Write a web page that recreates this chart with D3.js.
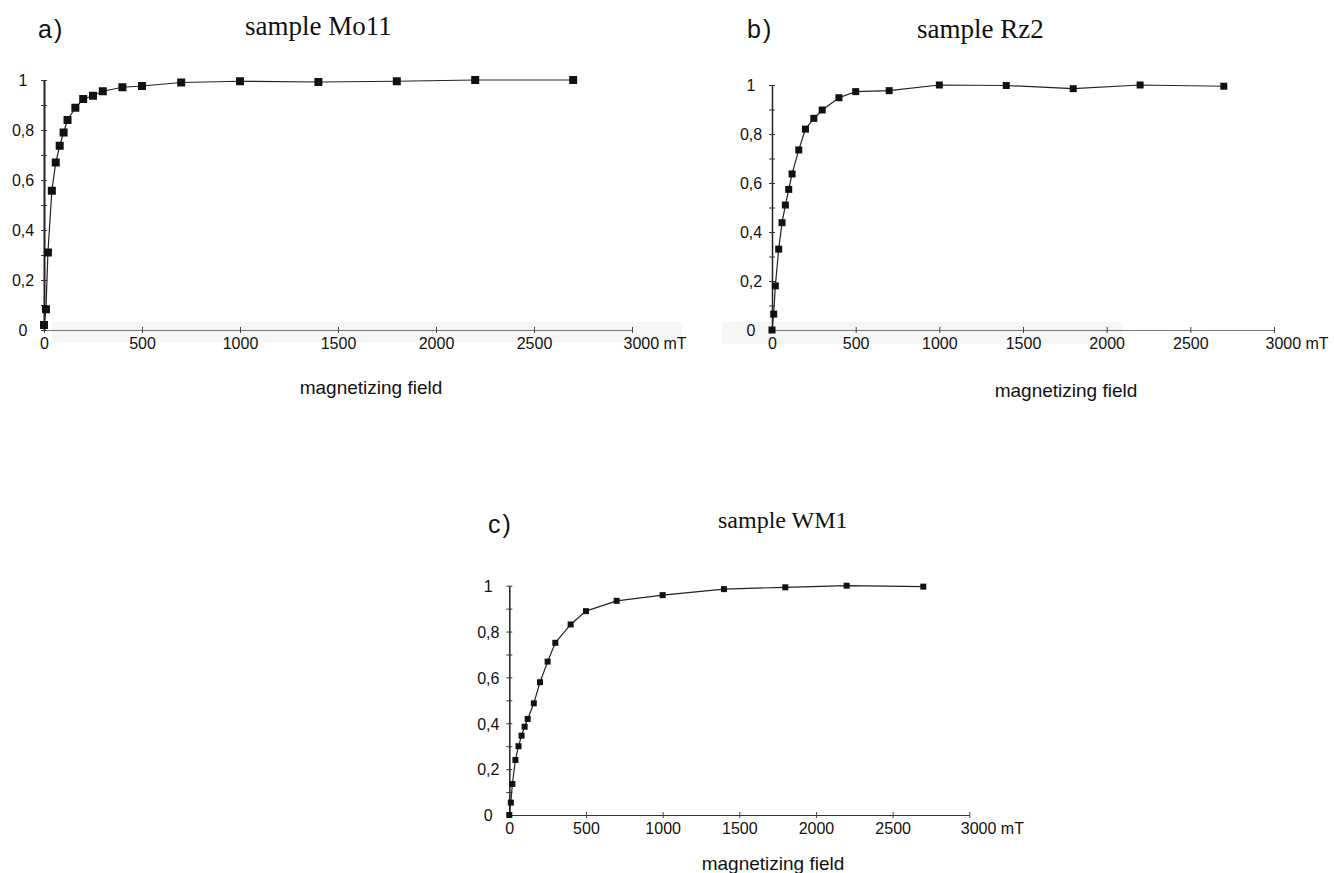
<!DOCTYPE html>
<html>
<head>
<meta charset="utf-8">
<script src="https://cdn.jsdelivr.net/npm/d3@7"></script>
<style>
  html, body { margin: 0; padding: 0; background: #fff; }
  svg { display: block; }
  .tick-label { font-family: Arial, "Liberation Sans", sans-serif; font-size: 16px; fill: #111; }
  .axis-title { font-family: Arial, "Liberation Sans", sans-serif; font-size: 19px; fill: #111; }
  .panel-letter { font-family: Arial, "Liberation Sans", sans-serif; font-size: 25px; fill: #111; letter-spacing: 2px; }
  .sample-title { font-family: "Times New Roman", "Liberation Serif", serif; fill: #111; }
</style>
</head>
<body>
<svg id="chart" width="1334" height="873"></svg>
<script>
// Applied field steps (mT), shared by all three acquisition curves
const fieldMT = [0, 10, 20, 40, 60, 80, 100, 120, 160, 200, 250, 300, 400, 500, 700, 1000, 1400, 1800, 2200, 2700];

// Normalised IRM for each sample
const mo11 = [0.02, 0.083, 0.31, 0.557, 0.67, 0.737, 0.79, 0.84, 0.889, 0.924, 0.937, 0.955, 0.971, 0.976, 0.99, 0.995, 0.992, 0.995, 1.0, 1.0];
const rz2  = [0, 0.065, 0.18, 0.33, 0.438, 0.51, 0.574, 0.637, 0.735, 0.82, 0.864, 0.898, 0.948, 0.973, 0.977, 1.0, 0.998, 0.985, 1.0, 0.995];
const wm1  = [0, 0.054, 0.135, 0.24, 0.30, 0.346, 0.385, 0.419, 0.487, 0.579, 0.669, 0.751, 0.831, 0.889, 0.934, 0.959, 0.985, 0.993, 1.0, 0.996];

// Axis ticks and labels
const xTickValues = [0, 500, 1000, 1500, 2000, 2500, 3000];
const yMajorTicks = [0, 0.2, 0.4, 0.6, 0.8, 1];
const yMinorTicks = [0.1, 0.3, 0.5, 0.7, 0.9];
const xUnit = "mT";
const xTitle = "magnetizing field";

const panelLetters = ["a)", "b)", "c)"];
const sampleNames = ["sample Mo11", "sample Rz2", "sample WM1"];

// Page layout of the three panels
const layout = [
  { values: mo11, x0: 44,    x1: 632,   yTop: 80,    yBot: 330, marker: 8, axisW: 2.0,
    letter: [38, 37.5], title: [245, 35, 27], xTitle: [371, 394],
    band: [52, 322, 630, 20] },
  { values: rz2,  x0: 772,   x1: 1274,  yTop: 85,    yBot: 330, marker: 7, axisW: 1.5,
    letter: [747, 38], title: [917, 38, 27], xTitle: [1066, 397],
    band: [722, 322, 400, 22] },
  { values: wm1,  x0: 509.3, x1: 969.3, yTop: 585.7, yBot: 815, marker: 6, axisW: 1.5,
    letter: [488, 533], title: [718, 528, 24], xTitle: [773, 870],
    band: null }
];

const svg = d3.select("#chart");
const fmtY = v => String(+v.toFixed(1)).replace(".", ",");

layout.forEach((p, i) => {
  const g = svg.append("g");
  const x = d3.scaleLinear().domain([0, 3000]).range([p.x0, p.x1]);
  const y = d3.scaleLinear().domain([0, 1]).range([p.yBot, p.yTop]);

  // faint grey strip behind the field axis
  if (p.band) {
    g.append("rect")
      .attr("x", p.band[0]).attr("y", p.band[1])
      .attr("width", p.band[2]).attr("height", p.band[3])
      .attr("fill", "#f5f5f5");
  }

  // x axis: baseline with small crossing ticks every 500 mT
  const xAxis = g.append("g").attr("transform", `translate(0,${p.yBot})`)
    .call(d3.axisBottom(x).tickValues(xTickValues).tickSize(0).tickFormat(""));
  xAxis.select(".domain").attr("stroke", i === 2 ? "#333" : "#777").attr("stroke-width", 1.2);
  xAxis.selectAll(".tick").append("line")
    .attr("y1", -3).attr("y2", 3).attr("stroke", "#444").attr("stroke-width", 1);
  xAxis.selectAll(".tick").append("text")
    .attr("class", "tick-label")
    .attr("y", 19)
    .attr("text-anchor", d => d === 3000 ? "start" : "middle")
    .attr("dx", d => d === 3000 ? -9 : 0)
    .attr("fill", "#111")
    .text(d => d === 3000 ? `${d} ${xUnit}` : d);

  // y axis with crossing ticks every 0.1
  const yAxis = g.append("g").attr("transform", `translate(${p.x0},0)`)
    .call(d3.axisLeft(y).tickValues(yMajorTicks.concat(yMinorTicks)).tickSize(0).tickFormat(""));
  yAxis.select(".domain").attr("stroke", "#222").attr("stroke-width", p.axisW);
  yAxis.selectAll(".tick").append("line")
    .attr("x1", -3).attr("x2", 3).attr("stroke", "#333").attr("stroke-width", 1);
  yAxis.selectAll(".tick").filter(d => yMajorTicks.includes(d)).append("text")
    .attr("class", "tick-label")
    .attr("x", -21).attr("dy", "0.36em")
    .attr("text-anchor", "middle")
    .attr("fill", "#111")
    .text(fmtY);

  // data curve
  const pts = fieldMT.map((f, k) => [f, p.values[k]]);
  g.append("path")
    .datum(pts)
    .attr("fill", "none")
    .attr("stroke", "#222")
    .attr("stroke-width", 1.2)
    .attr("d", d3.line().x(d => x(d[0])).y(d => y(d[1])));

  g.selectAll("rect.pt").data(pts).enter().append("rect")
    .attr("class", "pt")
    .attr("x", d => x(d[0]) - p.marker / 2)
    .attr("y", d => y(d[1]) - p.marker / 2)
    .attr("width", p.marker).attr("height", p.marker)
    .attr("fill", "#111");

  // labels
  g.append("text").attr("class", "panel-letter")
    .attr("x", p.letter[0]).attr("y", p.letter[1]).text(panelLetters[i]);
  g.append("text").attr("class", "sample-title")
    .attr("x", p.title[0]).attr("y", p.title[1])
    .style("font-size", p.title[2] + "px")
    .text(sampleNames[i]);
  g.append("text").attr("class", "axis-title")
    .attr("x", p.xTitle[0]).attr("y", p.xTitle[1])
    .attr("text-anchor", "middle")
    .text(xTitle);
});
</script>
</body>
</html>
